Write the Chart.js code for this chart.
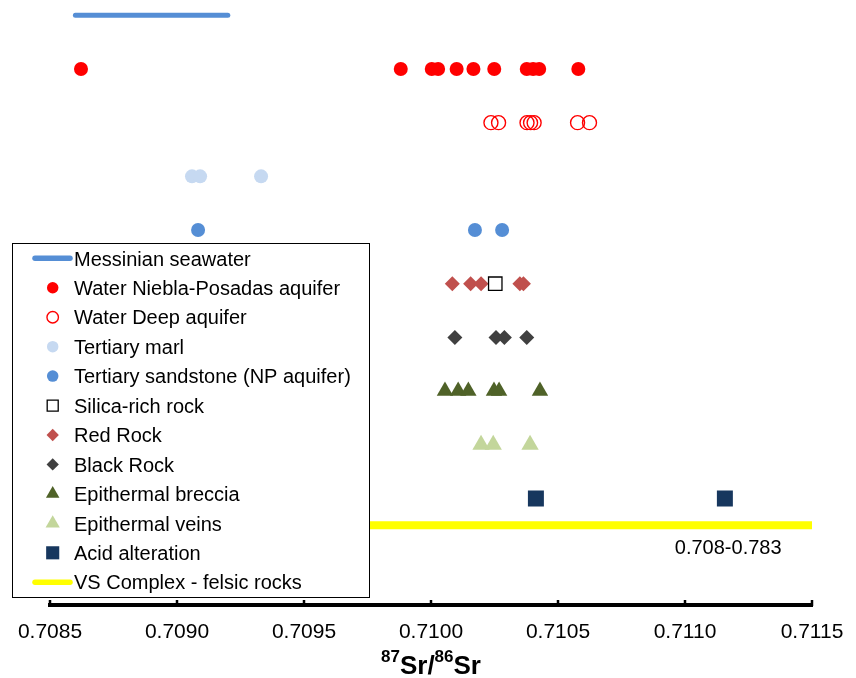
<!DOCTYPE html>
<html>
<head>
<meta charset="utf-8">
<script src="https://cdn.jsdelivr.net/npm/chart.js@4.4.1/dist/chart.umd.min.js"></script>
<style>
  html, body { margin: 0; padding: 0; background: #fff; }
  #wrap { width: 856px; height: 678px; }
</style>
</head>
<body>
<div id="wrap"><canvas id="srChart"></canvas></div>
<script>
// 87Sr/86Sr values, one small array per sample group
const seawaterRange = [0.70860, 0.70920];
const nieblaWater = [0.708622, 0.709881, 0.710003, 0.710028, 0.710101, 0.710167, 0.710249, 0.710377, 0.710402, 0.710426, 0.710580];
const deepWater = [0.710236, 0.710266, 0.710378, 0.710392, 0.710406, 0.710577, 0.710624];
const tertiaryMarl = [0.709059, 0.709091, 0.709331];
const tertiarySandstone = [0.709083, 0.710173, 0.710280];
const silicaRock = [0.710253];
const redRock = [0.710084, 0.710156, 0.710197, 0.710350, 0.710364];
const blackRock = [0.710094, 0.710256, 0.710289, 0.710377];
const breccia = [0.710055, 0.710107, 0.710147, 0.710248, 0.710268, 0.710429];
const veins = [0.710197, 0.710245, 0.710390];
const acidAlteration = [0.710413, 0.711157];
const vsComplexRange = [0.708, 0.783];
const vsComplexLabel = '0.708-0.783';

const xTicks = [0.7085, 0.7090, 0.7095, 0.7100, 0.7105, 0.7110, 0.7115];

const FONT = '"Liberation Sans", Arial, Helvetica, sans-serif';

// each group sits on its own row of the hidden y axis
const pts = (vals, row) => vals.map(v => ({ x: v, y: row }));

const datasets = [
  { label: 'Messinian seawater', data: pts(seawaterRange, 10), showLine: true, borderColor: '#558ed5',
    borderWidth: 5, borderCapStyle: 'round', pointRadius: 0, clip: false, legendLine: true },
  { label: 'Water Niebla-Posadas aquifer', data: pts(nieblaWater, 9), pointStyle: 'circle', pointRadius: 7,
    backgroundColor: '#ff0000', borderColor: '#ff0000', borderWidth: 0 },
  { label: 'Water Deep aquifer', data: pts(deepWater, 8), pointStyle: 'circle', pointRadius: 7,
    backgroundColor: 'rgba(255,255,255,0)', borderColor: '#ff0000', borderWidth: 1.4 },
  { label: 'Tertiary marl', data: pts(tertiaryMarl, 7), pointStyle: 'circle', pointRadius: 7,
    backgroundColor: '#c6d9f1', borderColor: '#c6d9f1', borderWidth: 0 },
  { label: 'Tertiary sandstone (NP aquifer)', data: pts(tertiarySandstone, 6), pointStyle: 'circle', pointRadius: 7,
    backgroundColor: '#558ed5', borderColor: '#558ed5', borderWidth: 0 },
  { label: 'Silica-rich rock', data: pts(silicaRock, 5), pointStyle: 'rect', pointRadius: 9.5,
    backgroundColor: '#ffffff', borderColor: '#000000', borderWidth: 1.3 },
  { label: 'Red Rock', data: pts(redRock, 5), pointStyle: 'rectRot', pointRadius: 7.5,
    backgroundColor: '#c0504d', borderColor: '#c0504d', borderWidth: 0 },
  { label: 'Black Rock', data: pts(blackRock, 4), pointStyle: 'rectRot', pointRadius: 7.5,
    backgroundColor: '#404040', borderColor: '#404040', borderWidth: 0 },
  { label: 'Epithermal breccia', data: pts(breccia, 3), pointStyle: 'triangle', pointRadius: 9.5,
    backgroundColor: '#4f6228', borderColor: '#4f6228', borderWidth: 0 },
  { label: 'Epithermal veins', data: pts(veins, 2), pointStyle: 'triangle', pointRadius: 10,
    backgroundColor: '#c3d69b', borderColor: '#c3d69b', borderWidth: 0 },
  { label: 'Acid alteration', data: pts(acidAlteration, 1), pointStyle: 'rect', pointRadius: 11.3,
    backgroundColor: '#17375e', borderColor: '#17375e', borderWidth: 0 },
  { label: 'VS Complex - felsic rocks', data: pts(vsComplexRange, 0.5), showLine: true, borderColor: '#ffff00',
    borderWidth: 8, pointRadius: 0, clip: 0, legendLine: true }
];

// upward tick marks, range label, axis title and the boxed legend
const extras = {
  id: 'extras',
  afterDraw(chart) {
    const { ctx, chartArea } = chart;
    const xs = chart.scales.x, ys = chart.scales.y;
    ctx.save();

    // tick marks pointing up from the axis line
    ctx.strokeStyle = '#000';
    ctx.lineWidth = 2.5;
    xTicks.forEach(t => {
      const px = xs.getPixelForValue(t);
      ctx.beginPath();
      ctx.moveTo(px, chartArea.bottom + 1);
      ctx.lineTo(px, chartArea.bottom - 5);
      ctx.stroke();
    });

    // range of the VS complex, written under its bar
    ctx.fillStyle = '#000';
    ctx.font = '20px ' + FONT;
    ctx.textAlign = 'center';
    ctx.textBaseline = 'alphabetic';
    ctx.fillText(vsComplexLabel, xs.getPixelForValue(0.71117), ys.getPixelForValue(0.5) + 29);

    // axis title 87Sr/86Sr with superscripts
    const big = 'bold 26px ' + FONT, small = 'bold 17px ' + FONT;
    const parts = [['87', small, -12], ['Sr/', big, 0], ['86', small, -12], ['Sr', big, 0]];
    let total = 0;
    parts.forEach(p => { ctx.font = p[1]; total += ctx.measureText(p[0]).width; });
    let tx = (chartArea.left + chartArea.right) / 2 - total / 2;
    const base = chart.height - 4;
    ctx.textAlign = 'left';
    parts.forEach(p => {
      ctx.font = p[1];
      ctx.fillText(p[0], tx, base + p[2]);
      tx += ctx.measureText(p[0]).width;
    });

    // legend box
    const box = { x: 12.5, y: 243.5, w: 357, h: 354 };
    ctx.fillStyle = '#fff';
    ctx.fillRect(box.x, box.y, box.w, box.h);
    ctx.strokeStyle = '#000';
    ctx.lineWidth = 1;
    ctx.strokeRect(box.x, box.y, box.w, box.h);

    ctx.font = '20px ' + FONT;
    chart.data.datasets.forEach((ds, i) => {
      const cy = 258.3 + i * 29.45;
      if (ds.legendLine) {
        ctx.strokeStyle = ds.borderColor;
        ctx.lineWidth = 5.5;
        ctx.lineCap = 'round';
        ctx.beginPath();
        ctx.moveTo(35, cy);
        ctx.lineTo(70, cy);
        ctx.stroke();
      } else {
        ctx.fillStyle = ds.backgroundColor;
        ctx.strokeStyle = ds.borderColor;
        ctx.lineWidth = ds.borderWidth;
        Chart.helpers.drawPoint(ctx, {
          pointStyle: ds.pointStyle,
          radius: ds.pointRadius * 0.82,
          rotation: 0,
          borderWidth: ds.borderWidth
        }, 52.7, cy);
      }
      ctx.fillStyle = '#000';
      ctx.fillText(ds.label, 74, cy + 7.2);
    });

    ctx.restore();
  }
};

new Chart(document.getElementById('srChart'), {
  type: 'scatter',
  data: { datasets },
  options: {
    responsive: true,
    maintainAspectRatio: false,
    animation: false,
    events: [],
    layout: { padding: { left: 50, right: 44, top: 0, bottom: 0 } },
    plugins: { legend: { display: false }, tooltip: { enabled: false } },
    scales: {
      x: {
        type: 'linear',
        min: xTicks[0],
        max: xTicks[xTicks.length - 1],
        afterBuildTicks: s => { s.ticks = xTicks.map(v => ({ value: v })); },
        afterFit: s => {
          s.height = 73;
          // let the layout padding alone decide the plot edges
          s.paddingLeft = 0;
          s.paddingRight = 0;
        },
        grid: { display: true, drawOnChartArea: false, drawTicks: false },
        border: { display: true, color: '#000', width: 4 },
        ticks: {
          padding: 15,
          color: '#000',
          font: { family: FONT, size: 21 },
          maxRotation: 0,
          callback: v => v.toFixed(4)
        }
      },
      y: { display: false, min: -0.984, max: 10.0745 }
    }
  },
  plugins: [extras]
});
</script>
</body>
</html>
